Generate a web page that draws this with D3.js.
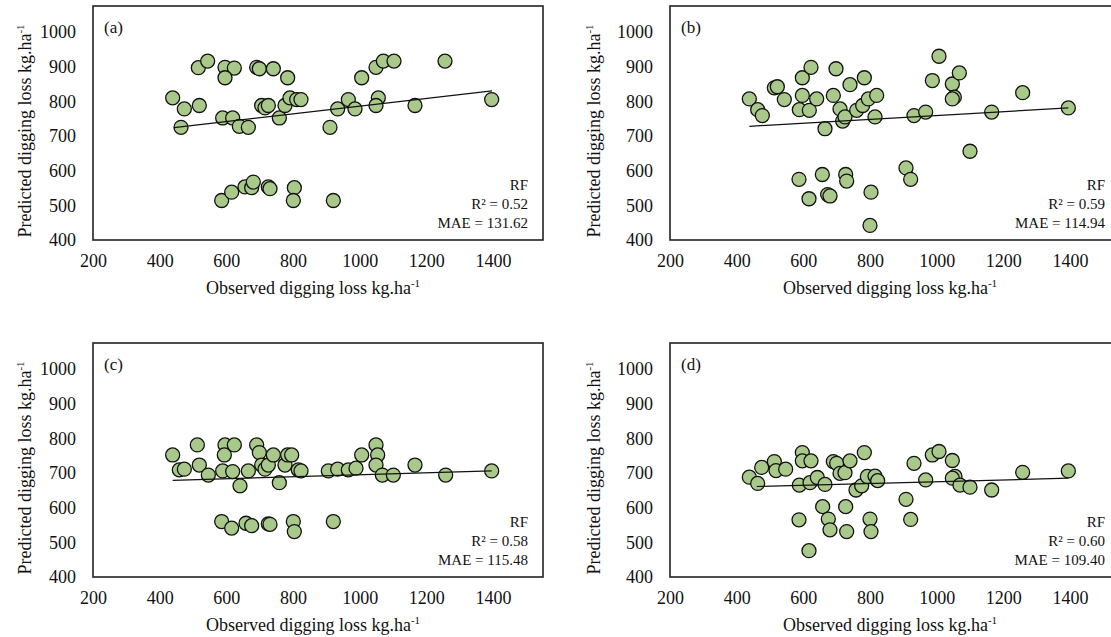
<!DOCTYPE html>
<html>
<head>
<meta charset="utf-8">
<script src="https://cdn.jsdelivr.net/npm/d3@7"></script>
<style>
  body { margin: 0; background: #fff; }
  text { font-family: "Liberation Serif", "Times New Roman", serif; fill: #111; }
</style>
</head>
<body>
<div id="chart"></div>
<script>
// axis ticks
var xTicks = [200, 400, 600, 800, 1000, 1200, 1400];
var yTicks = [400, 500, 600, 700, 800, 900, 1000];

// panel (a)
var obsA  = [516, 544, 596, 624, 596, 691, 699, 741, 784, 1006, 1049, 1071, 1103, 1256,
             439, 474, 519, 464, 589, 619, 639, 666, 706, 716, 726, 759, 776, 791, 811, 824,
             911, 934, 966, 986, 1056, 1049, 1166, 1396,
             586, 616, 656, 676, 681, 726, 731, 804, 801, 921];
var predA = [897, 916, 898, 896, 868, 898, 894, 894, 868, 868, 898, 916, 916, 916,
             810, 778, 788, 725, 752, 752, 728, 725, 788, 781, 788, 752, 788, 810, 805, 805,
             725, 778, 805, 778, 810, 788, 788, 805,
             514, 538, 553, 551, 567, 553, 548, 551, 514, 514];
var fitA  = [[443, 724], [1397, 830]];

// panel (b)
var obsB  = [438, 463, 477, 513, 522, 543, 588, 597, 597, 618, 623, 640, 665, 690, 698,
             710, 718, 725, 740, 760, 783, 778, 795, 820, 815, 932, 967, 987, 1007, 1047,
             1053, 1047, 1068, 1165, 1258, 1395,
             587, 617, 657, 673, 680, 727, 730, 803, 800, 908, 922, 1100];
var predB = [807, 776, 759, 839, 842, 805, 776, 868, 817, 774, 898, 807, 721, 817, 894,
             778, 743, 755, 848, 774, 868, 788, 807, 817, 755, 759, 769, 860, 930, 850,
             812, 807, 882, 769, 825, 781,
             575, 519, 589, 531, 527, 589, 570, 538, 442, 608, 575, 656];
var fitB  = [[438, 728], [1395, 781]];

// panel (c)
var obsC  = [439, 459, 474, 513, 519, 546, 589, 596, 594, 624, 619, 641, 666, 691, 699,
             706, 716, 726, 741, 759, 776, 784, 796, 816, 824, 906, 934, 966, 989, 1006,
             1049, 1054, 1049, 1068, 1101, 1166, 1258, 1396,
             586, 616, 659, 676, 726, 731, 801, 804, 921];
var predC = [752, 709, 711, 781, 723, 694, 706, 781, 752, 781, 704, 663, 706, 781, 759,
             723, 711, 723, 752, 672, 723, 752, 752, 709, 706, 706, 711, 709, 714, 752,
             781, 752, 723, 694, 694, 723, 694, 706,
             560, 541, 555, 548, 553, 552, 560, 531, 560];
var fitC  = [[439, 679], [1396, 706]];

// panel (d)
var obsD  = [438, 463, 475, 513, 518, 547, 588, 597, 597, 623, 620, 642, 665, 690, 700,
             710, 725, 740, 758, 775, 783, 792, 815, 823, 932, 967, 987, 1007, 1047, 1055,
             1047, 1070, 1100, 1165, 1258, 1395,
             587, 617, 658, 675, 680, 727, 730, 800, 803, 908, 922];
var predD = [688, 670, 716, 733, 707, 711, 665, 759, 735, 735, 672, 687, 667, 733, 728,
             699, 701, 735, 651, 663, 759, 690, 691, 678, 728, 680, 752, 762, 736, 690,
             685, 665, 659, 651, 702, 706,
             565, 476, 603, 567, 536, 603, 531, 567, 531, 624, 566];
var fitD  = [[460, 661], [1395, 685]];

var labels = ["(a)", "(b)", "(c)", "(d)"];
var r2Vals = ["0.52", "0.59", "0.58", "0.60"];
var maeVals = ["131.62", "114.94", "115.48", "109.40"];

var panels = [
  {obs: obsA, pred: predA, fit: fitA, col: 0, row: 0},
  {obs: obsB, pred: predB, fit: fitB, col: 1, row: 0},
  {obs: obsC, pred: predC, fit: fitC, col: 0, row: 1},
  {obs: obsD, pred: predD, fit: fitD, col: 1, row: 1}
];

// layout
var W = 1111, H = 637;
var pw = 450, ph = 234;
var lefts = [93, 670], tops = [6, 343];
var titleX = [31, 600];

var svg = d3.select("#chart").append("svg")
    .attr("width", W)
    .attr("height", H);

var x = d3.scaleLinear().domain([200, 1550]).range([0, pw]);
var y = d3.scaleLinear().domain([400, 1075]).range([ph, 0]);

panels.forEach(function(p, i) {
  var g = svg.append("g")
      .attr("transform", "translate(" + lefts[p.col] + "," + tops[p.row] + ")");

  // x tick labels
  var xa = g.append("g")
      .attr("transform", "translate(0," + ph + ")")
      .call(d3.axisBottom(x).tickValues(xTicks).tickSize(0).tickPadding(14).tickFormat(d3.format("d")));
  xa.select(".domain").remove();
  xa.selectAll("text").style("font-family", "Liberation Serif").style("font-size", "18px").attr("fill", "#111");

  // y tick labels
  var ya = g.append("g")
      .call(d3.axisLeft(y).tickValues(yTicks).tickSize(0).tickPadding(17).tickFormat(d3.format("d")));
  ya.select(".domain").remove();
  ya.selectAll("text").style("font-family", "Liberation Serif").style("font-size", "18px").attr("fill", "#111");

  // frame
  g.append("rect")
      .attr("width", pw)
      .attr("height", ph)
      .attr("fill", "none")
      .attr("stroke", "#222")
      .attr("stroke-width", 1.6);

  // points
  g.selectAll("circle")
      .data(p.obs)
    .enter().append("circle")
      .attr("cx", function(d) { return x(d); })
      .attr("cy", function(d, j) { return y(p.pred[j]); })
      .attr("r", 7)
      .attr("fill", "#a9c98a")
      .attr("stroke", "#111")
      .attr("stroke-width", 1.3);

  // fitted line
  g.append("line")
      .attr("x1", x(p.fit[0][0])).attr("y1", y(p.fit[0][1]))
      .attr("x2", x(p.fit[1][0])).attr("y2", y(p.fit[1][1]))
      .attr("stroke", "#111")
      .attr("stroke-width", 1.2);

  // panel label
  g.append("text")
      .attr("x", 11)
      .attr("y", 27)
      .style("font-size", "17px")
      .text(labels[i]);

  // stats
  var st = g.append("g").attr("text-anchor", "end").style("font-size", "15px");
  st.append("text").attr("x", pw - 15).attr("y", ph - 50).text("RF");
  st.append("text").attr("x", pw - 15).attr("y", ph - 31).text("R² = " + r2Vals[i]);
  st.append("text").attr("x", pw - 15).attr("y", ph - 12).text("MAE = " + maeVals[i]);

  // x title
  var xt = g.append("text")
      .attr("x", pw / 2 - 5)
      .attr("y", ph + 54)
      .attr("text-anchor", "middle")
      .style("font-size", "18px")
      .text("Observed digging loss kg.ha");
  xt.append("tspan").attr("dy", -7).style("font-size", "11px").text("-1");

  // y title
  var yt = g.append("text")
      .attr("transform", "translate(" + (titleX[p.col] - lefts[p.col]) + "," + (ph / 2 + 8) + ") rotate(-90)")
      .attr("text-anchor", "middle")
      .style("font-size", "18px")
      .text("Predicted digging loss kg.ha");
  yt.append("tspan").attr("dy", -7).style("font-size", "11px").text("-1");
});
</script>
</body>
</html>
